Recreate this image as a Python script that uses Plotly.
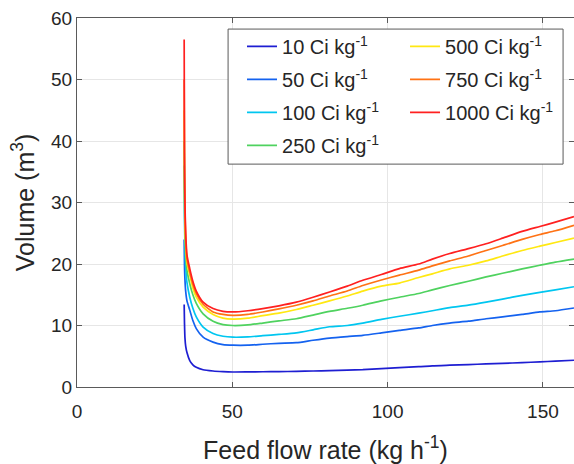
import plotly.graph_objects as go

feed_rate = [34.5, 34.6, 34.75, 35.0, 35.4, 36.3, 37.3, 38.4, 40.6, 43.8, 47.0, 50.2,
             55.0, 59.8, 65.0, 70.6, 76.0, 81.3, 87.0, 92.0, 98.0, 103.8, 110.0, 114.4,
             120.0, 126.0, 131.7, 137.0, 143.3, 149.0, 154.0, 160.0]

vol_10 = [13.4, 10.5, 8.0, 6.6, 5.6, 4.3, 3.6, 3.2, 2.8, 2.6, 2.5, 2.44,
          2.45, 2.48, 2.5, 2.55, 2.6, 2.65, 2.75, 2.83, 3.0, 3.15, 3.3, 3.45,
          3.55, 3.65, 3.75, 3.85, 3.95, 4.1, 4.2, 4.35]
vol_50 = [24.0, 20.0, 17.5, 15.5, 14.0, 12.5, 10.8, 9.5, 8.1, 7.3, 6.9, 6.8,
          6.8, 6.95, 7.1, 7.2, 7.6, 7.95, 8.2, 8.4, 8.8, 9.2, 9.6, 10.0,
          10.4, 10.7, 11.1, 11.4, 11.8, 12.2, 12.4, 12.85]
vol_100 = [36.0, 28.0, 23.0, 19.5, 17.0, 14.6, 12.8, 11.4, 9.75, 8.7, 8.25, 8.1,
           8.15, 8.35, 8.55, 8.8, 9.3, 9.8, 10.0, 10.4, 11.0, 11.5, 12.0, 12.4,
           12.9, 13.3, 13.8, 14.3, 14.9, 15.4, 15.8, 16.3]
vol_250 = [40.0, 31.0, 25.0, 21.5, 19.0, 16.8, 15.0, 13.6, 11.9, 10.7, 10.15, 10.0,
           10.1, 10.4, 10.75, 11.1, 11.7, 12.3, 12.8, 13.3, 14.0, 14.6, 15.2, 15.8,
           16.5, 17.2, 17.9, 18.5, 19.2, 19.8, 20.3, 20.8]
vol_500 = [45.0, 34.0, 27.0, 23.0, 20.2, 18.2, 16.1, 14.6, 13.0, 11.8, 11.2, 11.05,
           11.2, 11.6, 12.0, 12.6, 13.3, 14.0, 14.8, 15.6, 16.4, 16.9, 17.8, 18.4,
           19.2, 19.8, 20.5, 21.3, 22.2, 22.9, 23.5, 24.2]
vol_750 = [50.0, 36.0, 28.5, 24.0, 20.8, 18.7, 16.7, 15.2, 13.45, 12.2, 11.8, 11.65,
           11.8, 12.2, 12.7, 13.3, 14.0, 14.8, 15.6, 16.5, 17.4, 18.2, 19.0, 19.7,
           20.5, 21.3, 22.2, 23.0, 24.0, 24.8, 25.4, 26.3]
vol_1000 = [56.5, 38.0, 30.0, 25.0, 21.5, 19.25, 17.2, 15.6, 13.8, 12.75, 12.3, 12.2,
            12.4, 12.75, 13.2, 13.8, 14.6, 15.45, 16.4, 17.35, 18.3, 19.25, 20.0, 20.8,
            21.7, 22.5, 23.3, 24.2, 25.3, 26.1, 26.8, 27.7]

concentrations = ["10", "50", "100", "250", "500", "750", "1000"]
series = [vol_10, vol_50, vol_100, vol_250, vol_500, vol_750, vol_1000]
colors = ["#1e1ed2", "#1462ef", "#00c6f0", "#4fd25f", "#ffe812", "#ff7214", "#ff2020"]
legend_ids = ["legend", "legend", "legend", "legend", "legend2", "legend2", "legend2"]

FONT = "Arial, Liberation Sans, sans-serif"
TXT = "#262626"

fig = go.Figure()
for i, (c, v, col, lg) in enumerate(zip(concentrations, series, colors, legend_ids)):
    fig.add_trace(go.Scatter(
        x=feed_rate, y=v, mode="lines",
        line=dict(color=col, width=1.7, shape="spline", smoothing=0.6),
        name=f"{c} Ci kg<sup>-1</sup>",
        legend=lg, legendgroup=f"g{i}",
    ))

axis_common = dict(
    showline=True, linecolor="#5a5a5a", linewidth=1, mirror="ticks",
    ticks="inside", ticklen=5, tickcolor="#5a5a5a",
    showgrid=True, gridcolor="#e6e6e6", gridwidth=1, zeroline=False,
    tickfont=dict(family=FONT, size=19, color=TXT),
    automargin=False, ticklabeloverflow="allow",
)

leg_common = dict(xanchor="left", yanchor="top", bgcolor="rgba(0,0,0,0)",
                  borderwidth=0, tracegroupgap=4,
                  font=dict(family=FONT, size=20, color=TXT))

fig.update_layout(
    width=574, height=464,
    margin=dict(l=77, r=0, t=18, b=77),
    paper_bgcolor="white", plot_bgcolor="white",
    font=dict(family=FONT, color=TXT),
    xaxis=dict(range=[0, 160], tickvals=[0, 50, 100, 150], ticklabelstandoff=7,
               title=dict(text="Feed flow rate (kg h<sup>-1</sup>)",
                          font=dict(family=FONT, size=25, color=TXT), standoff=21),
               **axis_common),
    yaxis=dict(range=[0, 60], tickvals=[0, 10, 20, 30, 40, 50, 60],
               title=dict(text="Volume (m<sup>3</sup>)",
                          font=dict(family=FONT, size=25, color=TXT), standoff=9),
               **axis_common),
    legend=dict(x=0.332, y=0.976, **leg_common),
    legend2=dict(x=0.660, y=0.976, **leg_common),
    shapes=[dict(type="rect", xref="paper", yref="paper",
                 x0=0.304, x1=0.978, y0=0.604, y1=0.970,
                 line=dict(color="#5a5a5a", width=1), fillcolor="white", layer="above")],
    showlegend=True,
)

fig.write_html(
    "out.html",
    config={"displayModeBar": False},
    post_script="document.body.style.margin='0px';document.body.style.overflow='hidden';",
)
